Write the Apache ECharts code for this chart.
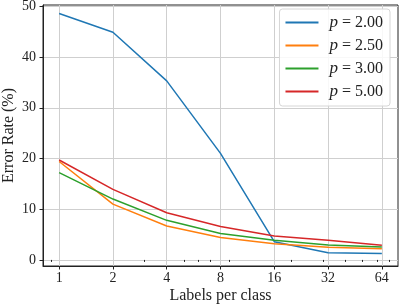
<!DOCTYPE html>
<html>
<head>
<meta charset="utf-8">
<script src="https://cdn.jsdelivr.net/npm/echarts@6/dist/echarts.min.js"></script>
<style>html,body{margin:0;padding:0;background:#fff}#c{width:399px;height:306px}</style>
</head>
<body>
<div id="c"></div>
<script>
const labelsPerClass = [1, 2, 4, 8, 16, 32, 64];
const minorTickValues = [0.9, 3, 5, 6, 7, 9, 20, 30, 40, 50, 60, 70];
const yTicks = [0, 10, 20, 30, 40, 50];
const seriesNames = ['2.00', '2.50', '3.00', '5.00'];
const errP200 = [48.6, 44.9, 35.3, 21.0, 3.6, 1.4, 1.25];
const errP250 = [19.4, 11.0, 6.7, 4.4, 3.2, 2.5, 2.2];
const errP300 = [17.2, 12.0, 7.8, 5.2, 3.9, 2.95, 2.55];
const errP500 = [19.7, 13.9, 9.3, 6.6, 4.7, 3.9, 2.9];
const colors = ['#1f77b4', '#ff7f0e', '#2ca02c', '#d62728'];

const FONT = '"Liberation Serif", "DejaVu Serif", serif';
const lg = v => Math.log2(v);
const allSeries = [errP200, errP250, errP300, errP500];

const chart = echarts.init(document.getElementById('c'), null, {renderer: 'canvas'});
chart.setOption({
  animation: false,
  backgroundColor: '#fff',
  grid: {left: 43, right: 1, top: 5, bottom: 40, containLabel: false, outerBoundsMode: 'none',
         show: true, borderColor: '#222', borderWidth: 1, backgroundColor: 'transparent'},
  legend: {
    orient: 'vertical',
    right: 9,
    top: 9,
    padding: [5, 7, 6, 6],
    itemGap: 6,
    itemWidth: 33,
    itemHeight: 2,
    icon: 'rect',
    backgroundColor: 'rgba(255,255,255,0.85)',
    borderColor: '#d6d6d6',
    borderWidth: 1,
    borderRadius: 3,
    data: seriesNames.map(n => 'p = ' + n),
    formatter: name => '{i|p} = ' + name.slice(4),
    textStyle: {
      fontFamily: FONT, fontSize: 16, color: '#222', lineHeight: 16,
      padding: [0, 0, 0, 6],
      rich: {i: {fontFamily: FONT, fontStyle: 'italic', fontSize: 17, color: '#222'}}
    }
  },
  xAxis: [{
    type: 'value',
    min: lg(2 ** -0.3),
    max: 6.3,
    name: 'Labels per class',
    nameLocation: 'middle',
    nameGap: 22,
    nameMoveOverlap: false,
    nameTextStyle: {fontFamily: FONT, fontSize: 16, color: '#222'},
    axisLine: {show: true, onZero: false, lineStyle: {color: '#222', width: 1}},
    axisTick: {show: true, length: 3.5, lineStyle: {color: '#222'}, customValues: labelsPerClass.map(lg)},
    axisLabel: {
      customValues: labelsPerClass.map(lg),
      formatter: v => String(Math.round(2 ** v)),
      fontFamily: FONT, fontSize: 14, color: '#222', margin: 5
    },
    splitLine: {show: true, lineStyle: {color: '#cfcfcf', width: 1}}
  }, {
    type: 'value',
    min: lg(2 ** -0.3),
    max: 6.3,
    position: 'bottom',
    axisLine: {show: false},
    axisTick: {show: true, length: 2, lineStyle: {color: '#222'}, customValues: minorTickValues.map(lg)},
    axisLabel: {show: false},
    splitLine: {show: false}
  }],
  yAxis: {
    type: 'value',
    min: -1.2,
    max: 50.26,
    name: 'Error Rate (%)',
    nameLocation: 'middle',
    nameGap: 26,
    nameMoveOverlap: false,
    nameTextStyle: {fontFamily: FONT, fontSize: 16, color: '#222'},
    axisLine: {show: true, onZero: false, lineStyle: {color: '#222', width: 1}},
    axisTick: {show: true, length: 3.5, lineStyle: {color: '#222'}, customValues: yTicks},
    axisLabel: {customValues: yTicks, fontFamily: FONT, fontSize: 14, color: '#222', margin: 7},
    splitLine: {show: true, lineStyle: {color: '#cfcfcf', width: 1}}
  },
  series: allSeries.map((vals, i) => ({
    name: 'p = ' + seriesNames[i],
    type: 'line',
    xAxisIndex: 0,
    symbol: 'none',
    color: colors[i],
    lineStyle: {width: 1.5, color: colors[i]},
    data: labelsPerClass.map((n, j) => [lg(n), vals[j]])
  }))
});
</script>
</body>
</html>
